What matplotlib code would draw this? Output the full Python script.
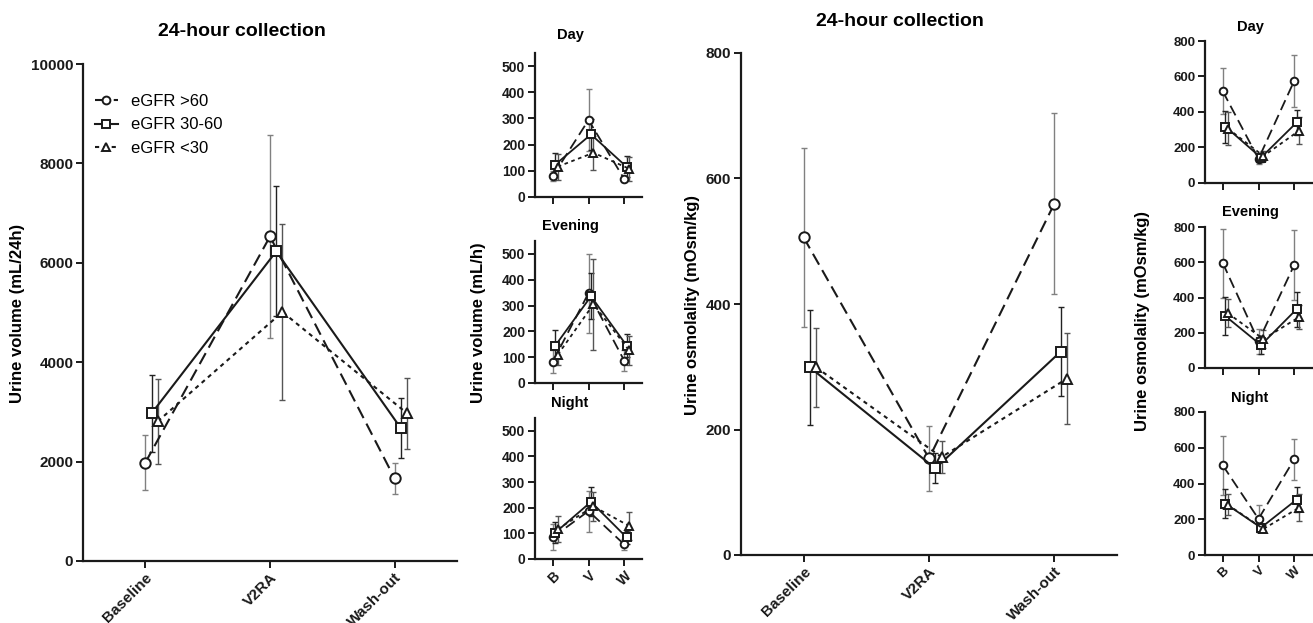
import numpy as np
import matplotlib
matplotlib.use('Agg')
import matplotlib.pyplot as plt

plt.rcParams['font.family'] = ['Liberation Sans', 'DejaVu Sans']
plt.rcParams['font.weight'] = 'bold'

# --- data ---
groups = ['eGFR >60', 'eGFR 30-60', 'eGFR <30']
phases = ['Baseline', 'V2RA', 'Wash-out']
phases_short = ['B', 'V', 'W']

# 24-hour urine volume (mL/24h): mean and error
vol24_mean = {'eGFR >60': [1980, 6530, 1660],
              'eGFR 30-60': [2970, 6230, 2670],
              'eGFR <30': [2810, 5010, 2970]}
vol24_err = {'eGFR >60': [550, 2040, 310],
             'eGFR 30-60': [770, 1310, 600],
             'eGFR <30': [860, 1770, 720]}

# urine volume per period (mL/h)
volday_mean = {'eGFR >60': [80, 294, 69], 'eGFR 30-60': [124, 239, 115], 'eGFR <30': [116, 169, 108]}
volday_err = {'eGFR >60': [20, 120, 12], 'eGFR 30-60': [43, 60, 40], 'eGFR <30': [50, 65, 45]}
voleve_mean = {'eGFR >60': [83, 348, 87], 'eGFR 30-60': [145, 336, 145], 'eGFR <30': [110, 305, 126]}
voleve_err = {'eGFR >60': [43, 153, 40], 'eGFR 30-60': [62, 90, 43], 'eGFR <30': [40, 176, 55]}
volnig_mean = {'eGFR >60': [85, 187, 57], 'eGFR 30-60': [103, 223, 84], 'eGFR <30': [117, 205, 129]}
volnig_err = {'eGFR >60': [50, 80, 20], 'eGFR 30-60': [40, 57, 25], 'eGFR <30': [52, 57, 55]}

# 24-hour urine osmolality (mOsm/kg)
osm24_mean = {'eGFR >60': [506, 154, 560], 'eGFR 30-60': [299, 138, 324], 'eGFR <30': [299, 156, 281]}
osm24_err = {'eGFR >60': [143, 52, 144], 'eGFR 30-60': [92, 24, 71], 'eGFR <30': [63, 25, 72]}

# urine osmolality per period (mOsm/kg)
osmday_mean = {'eGFR >60': [516, 136, 575], 'eGFR 30-60': [318, 143, 341], 'eGFR <30': [307, 152, 295]}
osmday_err = {'eGFR >60': [130, 30, 148], 'eGFR 30-60': [90, 25, 68], 'eGFR <30': [95, 30, 78]}
osmeve_mean = {'eGFR >60': [595, 152, 584], 'eGFR 30-60': [295, 130, 334], 'eGFR <30': [311, 164, 289]}
osmeve_err = {'eGFR >60': [195, 70, 200], 'eGFR 30-60': [110, 50, 100], 'eGFR <30': [80, 50, 70]}
osmnig_mean = {'eGFR >60': [501, 202, 535], 'eGFR 30-60': [288, 153, 310], 'eGFR <30': [281, 146, 265]}
osmnig_err = {'eGFR >60': [163, 75, 113], 'eGFR 30-60': [80, 20, 70], 'eGFR <30': [60, 20, 75]}

styles = {'eGFR >60': dict(marker='o', dashes=(6, 3), ecolor='#808080'),
          'eGFR 30-60': dict(marker='s', dashes=None, ecolor='#222222'),
          'eGFR <30': dict(marker='^', dashes=(2, 2), ecolor='#555555')}

W, H = 1313, 623
fig = plt.figure(figsize=(W / 100, H / 100), dpi=100)


def px_axes(left, right, top, bottom):
    return fig.add_axes([left / W, 1 - bottom / H, (right - left) / W, (bottom - top) / H])


def draw(ax, means, errs, offsets, ms, lw, tick_fs, ylim, yticks, xlabels):
    x = np.arange(3)
    for i, g in enumerate(groups):
        st = styles[g]
        xx = x + offsets[i]
        ax.errorbar(xx, means[g], yerr=errs[g], fmt='none', ecolor=st['ecolor'],
                    elinewidth=1.0, capsize=2.5, capthick=1.0, zorder=1)
        line, = ax.plot(xx, means[g], color='#1a1a1a', lw=lw, marker=st['marker'],
                        ms=ms, mfc='white', mec='#1a1a1a', mew=1.4, label=g, zorder=3)
        if st['dashes']:
            line.set_dashes(st['dashes'])
    ax.set_xlim(-0.5, 2.5)
    ax.set_ylim(*ylim)
    ax.set_yticks(yticks)
    ax.set_xticks(x)
    if xlabels is None:
        ax.set_xticklabels([])
    else:
        ax.set_xticklabels(xlabels, rotation=45, ha='right', rotation_mode='anchor',
                           fontsize=tick_fs, fontweight='bold')
    for s in ['top', 'right']:
        ax.spines[s].set_visible(False)
    for s in ['left', 'bottom']:
        ax.spines[s].set_linewidth(1.6)
        ax.spines[s].set_color('#1a1a1a')
    ax.tick_params(width=1.4, length=5, labelsize=tick_fs, colors='#1a1a1a', pad=2)
    for lab in ax.get_yticklabels():
        lab.set_fontweight('bold')


# left main panel: 24-hour urine volume
ax1 = px_axes(83, 457, 64, 561)
draw(ax1, vol24_mean, vol24_err, [0, 0.05, 0.1], 7.5, 1.5, 11,
     (0, 10000), [0, 2000, 4000, 6000, 8000, 10000], phases)
leg = ax1.legend(loc='upper left', bbox_to_anchor=(0.0, 0.963), frameon=False,
                 prop={'size': 12, 'weight': 'normal'}, handlelength=1.4,
                 handletextpad=0.8, labelspacing=0.5, borderaxespad=0.3,
                 markerscale=0.75)
fig.text(242 / W, 1 - 32 / H, '24-hour collection', ha='center', va='center',
         fontsize=14, fontweight='bold')
fig.text(18 / W, 1 - 313 / H, 'Urine volume (mL/24h)', rotation=90, ha='center',
         va='center', fontsize=12, fontweight='bold')

# left small panels: volume per period
small_v = [(volday_mean, volday_err, 53, 197, 'Day', 35),
           (voleve_mean, voleve_err, 241, 383, 'Evening', 226),
           (volnig_mean, volnig_err, 418, 559, 'Night', 403)]
for k, (m, e, top, bot, title, ty) in enumerate(small_v):
    ax = px_axes(535, 642, top, bot)
    draw(ax, m, e, [0, 0.07, 0.14], 5.5, 1.3, 10, (0, 550),
         [0, 100, 200, 300, 400, 500], phases_short if k == 2 else None)
    fig.text(570 / W, 1 - ty / H, title, ha='center', va='center',
             fontsize=10.5, fontweight='bold')
fig.text(478 / W, 1 - 323 / H, 'Urine volume (mL/h)', rotation=90, ha='center',
         va='center', fontsize=12, fontweight='bold')

# right main panel: 24-hour osmolality
ax2 = px_axes(741, 1117, 53, 555)
draw(ax2, osm24_mean, osm24_err, [0, 0.05, 0.1], 7.5, 1.5, 11,
     (0, 800), [0, 200, 400, 600, 800], phases)
fig.text(900 / W, 1 - 21 / H, '24-hour collection', ha='center', va='center',
         fontsize=14, fontweight='bold')
fig.text(693 / W, 1 - 305 / H, 'Urine osmolality (mOsm/kg)', rotation=90, ha='center',
         va='center', fontsize=12, fontweight='bold')

# right small panels: osmolality per period
small_o = [(osmday_mean, osmday_err, 41, 183, 'Day', 27),
           (osmeve_mean, osmeve_err, 227, 368, 'Evening', 212),
           (osmnig_mean, osmnig_err, 412, 555, 'Night', 398)]
for k, (m, e, top, bot, title, ty) in enumerate(small_o):
    ax = px_axes(1205, 1312, top, bot)
    draw(ax, m, e, [0, 0.07, 0.14], 5.5, 1.3, 9.5, (0, 800),
         [0, 200, 400, 600, 800], phases_short if k == 2 else None)
    fig.text(1250 / W, 1 - ty / H, title, ha='center', va='center',
             fontsize=10.5, fontweight='bold')
fig.text(1142 / W, 1 - 321 / H, 'Urine osmolality (mOsm/kg)', rotation=90, ha='center',
         va='center', fontsize=12, fontweight='bold')

fig.savefig('out.png', dpi=100)
